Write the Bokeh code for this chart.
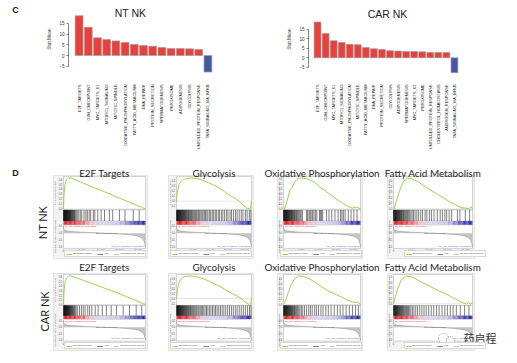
import math
import numpy as np
from bokeh.plotting import figure
from bokeh.models import Range1d, FactorRange, FixedTicker, Label, Legend, LegendItem
from bokeh.layouts import row, column
from bokeh.transform import linear_cmap
from bokeh.core.properties import value
from bokeh.embed import file_html
from bokeh.resources import INLINE

# ---------------- data: panel C ----------------
nt_terms = ["E2F_TARGETS", "G2M_CHECKPOINT", "MYC_TARGETS_V1", "MTORC1_SIGNALING",
            "MITOTIC_SPINDLE", "OXIDATIVE_PHOSPHORYLATION", "FATTY_ACID_METABOLISM",
            "DNA_REPAIR", "PROTEIN_SECRETION", "SPERMATOGENESIS", "PEROXISOME",
            "ADIPOGENESIS", "GLYCOLYSIS", "UNFOLDED_PROTEIN_RESPONSE", "TNFA_SIGNALING_VIA_NFKB"]
nt_stat = [18.5, 13.1, 8.2, 7.4, 6.8, 6.0, 5.1, 4.6, 4.3, 3.7, 3.2, 3.2, 3.1, 2.8, -7.7]

car_terms = ["E2F_TARGETS", "G2M_CHECKPOINT", "MYC_TARGETS_V1", "MTORC1_SIGNALING",
             "OXIDATIVE_PHOSPHORYLATION", "MITOTIC_SPINDLE", "FATTY_ACID_METABOLISM",
             "DNA_REPAIR", "PROTEIN_SECRETION", "GLYCOLYSIS", "ADIPOGENESIS",
             "SPERMATOGENESIS", "MYC_TARGETS_V2", "PEROXISOME", "UNFOLDED_PROTEIN_RESPONSE",
             "CHOLESTEROL_HOMEOSTASIS", "ANDROGEN_RESPONSE", "TNFA_SIGNALING_VIA_NFKB"]
car_stat = [18.6, 12.7, 8.9, 8.0, 7.0, 6.8, 5.4, 4.7, 4.3, 3.7, 3.5, 3.3, 3.3, 3.1, 2.8, 2.8, 2.8, -7.8]

stat_ticks = [-5, 0, 5, 10, 15]

# ---------------- data: panel D ----------------
gsea_titles = ["E2F Targets", "Glycolysis", "Oxidative Phosphorylation", "Fatty Acid Metabolism"]
row_names = ["NT NK", "CAR NK"]
N_GENES = 22000
rank_ticks = [0, 5000, 10000, 15000, 20000]
rank_tick_labels = ["0", "5,000", "10,000", "15,000", "20,000"]
es_ticks = [-0.1, 0.0, 0.1, 0.2, 0.3, 0.4, 0.5, 0.6]
metric_ticks = [-1.0, -0.5, 0.0, 0.5]

nt_e2f_rank = [0, 150, 400, 800, 1300, 2000, 3000, 5000, 8000, 11000, 14000, 17000, 19500, 21000, 22000]
nt_e2f_es = [0.0, 0.30, 0.50, 0.60, 0.63, 0.63, 0.60, 0.535, 0.44, 0.35, 0.25, 0.16, 0.08, 0.03, 0.0]
nt_gly_rank = [0, 200, 600, 1200, 2000, 3000, 4000, 6000, 8000, 10000, 12000, 14000, 16000, 18000, 19500, 20500, 21300, 21700, 22000]
nt_gly_es = [0.0, 0.15, 0.30, 0.38, 0.42, 0.44, 0.45, 0.44, 0.40, 0.34, 0.28, 0.19, 0.10, 0.02, -0.07, -0.13, -0.15, -0.14, 0.0]
nt_ox_rank = [0, 280, 940, 1870, 2530, 3280, 4210, 5150, 7020, 8890, 10770, 13570, 16380, 18250, 19660, 20600, 21530, 22000]
nt_ox_es = [0.0, 0.0, 0.14, 0.39, 0.44, 0.55, 0.61, 0.62, 0.60, 0.53, 0.42, 0.28, 0.14, 0.056, 0.014, 0.035, 0.02, 0.0]
nt_fam_rank = [0, 180, 640, 1090, 2000, 2910, 3820, 5180, 7000, 9270, 11550, 13820, 16090, 18820, 20180, 21090, 21550, 22000]
nt_fam_es = [0.0, 0.0, 0.11, 0.20, 0.38, 0.50, 0.55, 0.54, 0.48, 0.38, 0.29, 0.20, 0.11, 0.02, 0.012, 0.006, 0.037, 0.0]

car_e2f_rank = [0, 150, 400, 800, 1300, 1900, 3000, 5000, 8000, 11000, 14000, 17000, 19500, 21000, 22000]
car_e2f_es = [0.0, 0.28, 0.48, 0.58, 0.62, 0.63, 0.60, 0.54, 0.45, 0.36, 0.27, 0.17, 0.09, 0.03, 0.0]
car_gly_rank = [0, 300, 800, 1500, 2500, 4000, 6000, 8000, 10000, 12000, 14000, 16000, 18000, 19500, 20500, 21300, 21800, 22000]
car_gly_es = [0.0, 0.18, 0.33, 0.40, 0.44, 0.45, 0.43, 0.39, 0.33, 0.26, 0.19, 0.11, 0.04, -0.03, -0.09, -0.12, -0.11, 0.0]
car_ox_rank = [0, 655, 1400, 2150, 2810, 3560, 4210, 5620, 7490, 9830, 12640, 16380, 18440, 19660, 20600, 21340, 22000]
car_ox_es = [0.0, 0.08, 0.24, 0.38, 0.46, 0.53, 0.56, 0.55, 0.50, 0.40, 0.27, 0.15, 0.08, 0.05, 0.04, 0.045, 0.0]
car_fam_rank = [0, 460, 1110, 2040, 2690, 3430, 4830, 7150, 9470, 11790, 14110, 16430, 18290, 19680, 20330, 20890, 21350, 22000]
car_fam_es = [0.0, 0.12, 0.27, 0.43, 0.48, 0.52, 0.51, 0.43, 0.35, 0.27, 0.20, 0.12, 0.05, 0.012, -0.006, 0.025, -0.012, 0.018]

nt_e2f_hits = [20, 90, 160, 230, 300, 370, 440, 510, 580, 650, 720, 800, 880, 960, 1040, 1120, 1200, 1290,
               1380, 1470, 1560, 1660, 1760, 1870, 1980, 2100, 2230, 2360, 2500, 2650, 2800, 2960, 3150, 3400,
               3700, 4100, 4500, 4900, 5500, 6000, 6400, 6900, 7300, 8000, 8400, 9200, 10100, 11000, 12300,
               13200, 15000, 16500, 18700, 20300]
nt_gly_hits = [30, 110, 190, 280, 360, 450, 540, 620, 720, 810, 900, 1010, 1100, 1210, 1330, 1440, 1560, 1690,
               1800, 1940, 2070, 2210, 2350, 2510, 2650, 2820, 2990, 3150, 3340, 3520, 3730, 3910, 4130, 4370,
               4580, 4830, 5090, 5350, 5610, 5900, 6230, 6500, 6790, 7150, 7480, 7790, 8170, 8500, 8900, 9230,
               9700, 10050, 10500, 10900, 11350, 11700, 12250, 12600, 13150, 13600, 14100, 14650, 15100, 15700,
               16150, 16700, 17300, 17800, 18400, 19000, 19500, 20200, 20700, 21350, 21800]
nt_ox_hits = [20, 100, 180, 260, 340, 420, 500, 590, 680, 770, 860, 950, 1050, 1150, 1250, 1350, 1460, 1570,
              1680, 1800, 1920, 2050, 2180, 2320, 2460, 2610, 2770, 2940, 3120, 3300, 3500, 3720, 3950, 4200,
              4480, 4750, 5050, 5400, 6600, 6900, 7300, 7600, 7900, 8300, 8700, 9100, 9500, 10300, 10600,
              10900, 11200, 12300, 13000, 13800, 14700, 15600, 16300, 16700, 17100, 17600, 18500, 19300,
              20100, 21000]
nt_fam_hits = [20, 110, 200, 290, 380, 470, 560, 650, 750, 850, 950, 1060, 1170, 1280, 1400, 1520, 1650, 1780,
               1920, 2070, 2230, 2400, 2580, 2770, 2970, 3180, 3400, 3650, 3900, 4200, 4500, 4850, 5200, 5600,
               6000, 6500, 7000, 7600, 8100, 8800, 9300, 10000, 10600, 11300, 12200, 13000, 13600, 14300,
               14800, 15500, 16200, 17800, 18500, 20000, 21200]
car_e2f_hits = [30, 100, 170, 240, 310, 380, 450, 520, 590, 660, 740, 820, 900, 980, 1060, 1150, 1240, 1330,
                1430, 1530, 1640, 1750, 1870, 2000, 2130, 2270, 2420, 2580, 2750, 2930, 3150, 3400, 3800, 4300,
                4800, 5300, 5800, 6500, 7000, 7600, 8500, 9300, 10400, 11500, 12800, 14200, 16000, 17700,
                19500, 21000]
car_gly_hits = [50, 130, 220, 300, 390, 470, 560, 660, 750, 850, 950, 1050, 1160, 1270, 1380, 1500, 1620, 1750,
                1880, 2020, 2160, 2300, 2460, 2610, 2780, 2950, 3120, 3300, 3490, 3690, 3900, 4120, 4350, 4600,
                4850, 5100, 5380, 5680, 5950, 6300, 6600, 6950, 7300, 7650, 8000, 8400, 8800, 9200, 9650,
                10100, 10550, 11000, 11450, 11900, 12400, 12900, 13400, 13900, 14450, 15000, 15550, 16100,
                16650, 17250, 17800, 18400, 19000, 19600, 20200, 20800, 21400, 21850]
car_ox_hits = [40, 120, 200, 280, 360, 450, 540, 630, 720, 820, 920, 1020, 1130, 1240, 1350, 1470, 1590, 1720,
               1850, 1990, 2130, 2280, 2440, 2600, 2770, 2950, 3140, 3340, 3560, 3800, 4050, 4350, 4700, 5100,
               5500, 6000, 6600, 7200, 7700, 8200, 8900, 9400, 10000, 10700, 11300, 12100, 12800, 13600,
               14500, 15400, 16200, 17000, 17900, 18800, 19700, 20600, 21400]
car_fam_hits = [30, 120, 210, 300, 390, 480, 580, 680, 780, 880, 990, 1100, 1220, 1340, 1470, 1600, 1740, 1890,
                2040, 2200, 2370, 2550, 2740, 2940, 3160, 3390, 3630, 3900, 4180, 4500, 4850, 5250, 5700, 6200,
                6700, 7300, 7900, 8500, 9100, 9800, 10500, 11200, 12000, 12700, 13500, 14300, 15000, 15800,
                16600, 17500, 18600, 19800, 21000]

metric_rank = [0, 60, 200, 500, 1000, 1800, 3000, 5000, 7500, 10000, 11500, 13000, 15000, 17000, 18500,
               19700, 20500, 21100, 21500, 21800, 22000]
nt_metric = [0.52, 0.34, 0.26, 0.21, 0.17, 0.14, 0.11, 0.08, 0.05, 0.02, 0.0, -0.02, -0.05, -0.09, -0.13,
             -0.19, -0.26, -0.36, -0.50, -0.72, -1.0]
car_metric = [0.55, 0.36, 0.27, 0.22, 0.18, 0.15, 0.12, 0.085, 0.05, 0.02, 0.0, -0.02, -0.05, -0.09, -0.14,
              -0.20, -0.27, -0.38, -0.52, -0.75, -1.0]
nt_zero_cross = 11493
car_zero_cross = 11472

# ---------------- styles ----------------
RED = "#e8403a"
BLUE = "#4a55a6"
GREEN = "#8fcf3c"
HEAT = ["#e41f2a", "#e6323a", "#e94a55", "#ec6a78", "#f09aac", "#f0bfd4", "#e3cbe6", "#d8d3ef",
        "#d3cfee", "#cfcbec", "#cac6ea", "#b6b2e3", "#8e8ad4", "#6461c2", "#4240b0", "#2f2ea3"]
TINY = "Liberation Sans"


def base_fig(w, h, bl, br, bt, bb, **kw):
    p = figure(width=int(w), height=int(h), min_border_left=int(bl), min_border_right=int(br),
               min_border_top=int(bt), min_border_bottom=int(bb), toolbar_location=None,
               output_backend="svg", title=None, outline_line_color=None, **kw)
    return p


def label_fig(w, h, items):
    p = base_fig(w, h, 0, 0, 0, 0, x_range=Range1d(0, w), y_range=Range1d(0, h),
                 x_axis_type=None, y_axis_type=None)
    p.grid.visible = False
    for (x, y, txt, ang, size, style) in items:
        p.add_layout(Label(x=x, y=y, text=txt, angle=ang, text_font_size=size, text_font_style=style,
                           text_font="Lato" if style == "normal" else "Liberation Sans",
                           text_align="center", text_baseline="middle", text_color="#1a1a1a"))
    return p


def bar_chart(terms, stats, title, w, bl, fw, br, zero_px, ppu, top_px, bot_px, pad, title_px, title_py):
    n = len(terms)
    H = 163
    ymax = (zero_px - top_px) / ppu
    ymin = -(bot_px - zero_px) / ppu
    p = base_fig(w, H, bl, br, top_px, H - bot_px,
                 x_range=FactorRange(factors=terms, range_padding=pad / n, range_padding_units="percent"),
                 y_range=Range1d(ymin, ymax))
    colors = [RED if v > 0 else BLUE for v in stats]
    p.vbar(x=terms, top=stats, width=0.85, fill_color=colors, line_color="#9c9c9c", line_width=0.7)
    p.grid.visible = False
    ya = p.yaxis[0]
    ya.ticker = FixedTicker(ticks=stat_ticks)
    ya.bounds = (min(stat_ticks), max(stat_ticks))
    ya.minor_tick_line_color = None
    ya.major_tick_out = 2
    ya.major_tick_in = 0
    ya.axis_line_width = 0.6
    ya.major_tick_line_width = 0.6
    ya.axis_line_color = "#333333"
    ya.major_tick_line_color = "#333333"
    ya.major_label_text_font_size = "4.6px"
    ya.major_label_text_font = "Liberation Sans"
    ya.major_label_text_color = "#333333"
    ya.major_label_standoff = 2
    ya.axis_label = "Stat.Mean"
    ya.axis_label_text_font_size = "4.6px"
    ya.axis_label_text_font_style = "normal"
    ya.axis_label_text_font = "Liberation Sans"
    ya.axis_label_standoff = 4
    xa = p.xaxis[0]
    xa.axis_line_color = None
    xa.major_tick_line_color = None
    xa.major_label_orientation = math.pi / 2
    xa.major_label_standoff = 5
    xa.major_label_text_font_size = "3.9px"
    xa.major_label_text_font = "'Liberation Sans Narrow', 'Liberation Sans', sans-serif"
    xa.major_label_text_color = "#222222"
    x_syn = -pad / 2 + title_px * (n + pad) / fw
    y_title = (zero_px - title_py) / ppu
    p.add_layout(Label(x=x_syn, y=y_title, text=title, text_font="Liberation Sans", text_font_size="10.5px",
                       text_align="center", text_baseline="middle", text_color="#222222"))
    return p


def gsea(title, es_rank, es, hits, m_val, zero_cross, geom, fh, pb, ph, title_y, extra=None):
    fig_l, fig_r, pan_l, es_l, es_r, pan_r = geom
    w = fig_r - fig_l
    k = N_GENES / (es_r - es_l)
    x0 = -(es_l - fig_l) * k
    x1 = N_GENES + (fig_r - es_r) * k
    px0 = -(es_l - pan_l) * k
    px1 = N_GENES + (pan_r - es_r) * k
    p = base_fig(w, fh, 0, 0, 0, 0, x_range=Range1d(x0, x1), y_range=Range1d(0, fh),
                 x_axis_type=None, y_axis_type=None)
    p.grid.visible = False

    def Y(f):
        return pb + f * ph

    es_b, es_t = Y(0.585), Y(0.988)
    hit_b, hit_t = Y(0.452), Y(0.585)
    heat_b, heat_t = Y(0.408), Y(0.452)
    met_b, met_t = Y(0.122), Y(0.405)
    # panel background and boxes
    p.quad(left=[px0], right=[px1], bottom=[pb], top=[pb + ph], fill_color="#f3f3f3", line_color="#d4d4d4",
           line_width=0.6)
    p.quad(left=[0, 0, 0], right=[N_GENES] * 3, bottom=[es_b, hit_b, met_b], top=[es_t, hit_t, met_t],
           fill_color="white", line_color="#a8a8a8", line_width=0.5)
    # ranges
    elo, ehi = min(es) - 0.02, max(es) + 0.03
    s = (ehi - elo) / (es_t - es_b)
    p.extra_y_ranges["es"] = Range1d(elo - es_b * s, ehi + (fh - es_t) * s)
    mlo, mhi = min(m_val) - 0.08, max(m_val) + 0.08
    s2 = (mhi - mlo) / (met_t - met_b)
    p.extra_y_ranges["met"] = Range1d(mlo - met_b * s2, mhi + (fh - met_t) * s2)
    # heat bar
    edges = np.linspace(0, N_GENES, 65)
    p.quad(left=edges[:-1], right=edges[1:], bottom=heat_b, top=heat_t,
           fill_color=linear_cmap("left", HEAT, 0, N_GENES), line_color=None)
    # hits
    hr = p.segment(x0=hits, x1=hits, y0=hit_b, y1=hit_t, line_color="#000000", line_width=0.6,
                   line_alpha=0.85)
    # ES
    p.segment(x0=[0], x1=[N_GENES], y0=[0], y1=[0], y_range_name="es", line_color="#bdbdbd", line_width=0.4)
    er = p.line(es_rank, es, y_range_name="es", line_color=GREEN, line_width=0.9)
    # ranked metric
    p.varea(x=metric_rank, y1=0, y2=m_val, y_range_name="met", fill_color="#c4c4c4")
    mr = p.line(metric_rank, m_val, y_range_name="met", line_color="#8c8c8c", line_width=0.5)
    # tick labels
    tv = [t for t in es_ticks if elo <= t <= ehi]
    p.text(x=[-1.2 * k] * len(tv), y=tv, text=[f"{t:.1f}" for t in tv], y_range_name="es",
           text_font=value(TINY), text_font_size="2.6px", text_align="right", text_baseline="middle",
           text_color="#555555")
    mv = [t for t in metric_ticks if mlo <= t <= mhi]
    p.text(x=[-1.2 * k] * len(mv), y=mv, text=[f"{t:.1f}" for t in mv], y_range_name="met",
           text_font=value(TINY), text_font_size="2.6px", text_align="right", text_baseline="middle",
           text_color="#555555")
    p.text(x=rank_ticks, y=[Y(0.092)] * len(rank_ticks), text=rank_tick_labels, text_font=value(TINY),
           text_font_size="2.6px", text_align="center", text_baseline="middle", text_color="#555555")
    p.text(x=[N_GENES / 2], y=[Y(0.062)], text=["Rank in Ordered Dataset"], text_font=value(TINY),
           text_font_size="2.6px", text_align="center", text_baseline="middle", text_color="#555555")
    p.text(x=[px0 + 1.8 * k] * 2, y=[(es_b + es_t) / 2, (met_b + met_t) / 2],
           text=["Enrichment score (ES)", "Ranked list metric (PreRanked)"], angle=math.pi / 2,
           text_font=value(TINY), text_font_size="2.4px", text_align="center", text_baseline="middle",
           text_color="#555555")
    p.text(x=[0.012 * N_GENES], y=[met_t - 0.02 * ph], text=["'na_pos' (positively correlated)"],
           text_font=value(TINY), text_font_size="2.4px", text_align="left", text_baseline="middle",
           text_color="#e0302a")
    p.text(x=[0.985 * N_GENES], y=[met_b + 0.03 * ph], text=["'na_neg' (negatively correlated)"],
           text_font=value(TINY), text_font_size="2.4px", text_align="right", text_baseline="middle",
           text_color="#5050c8")
    p.text(x=[zero_cross], y=[met_t - 0.1 * ph], text=[f"Zero cross at {zero_cross}"],
           text_font=value(TINY), text_font_size="2.4px", text_align="center", text_baseline="middle",
           text_color="#444444")
    leg = Legend(items=[LegendItem(label="Enrichment profile", renderers=[er]),
                        LegendItem(label="Hits", renderers=[hr]),
                        LegendItem(label="Ranking metric scores", renderers=[mr])],
                 location="bottom_center", orientation="horizontal", label_text_font_size="2.4px",
                 label_text_font=TINY, glyph_width=6, glyph_height=2, label_height=2, label_width=1,
                 label_standoff=1, spacing=5, padding=1, margin=int(pb + 1), border_line_color="#b0b0b0",
                 border_line_width=0.4, background_fill_color="white", background_fill_alpha=1.0)
    p.add_layout(leg)
    p.add_layout(Label(x=N_GENES / 2, y=title_y, text=title, text_font="Lato", text_font_size="9.9px",
                       text_align="center", text_baseline="middle", text_color="#1e1e1e"))
    if extra is not None:
        ex_px, ey, etxt = extra
        p.scatter(x=[x0 + (ex_px - 20) * k, x0 + (ex_px - 13) * k], y=[ey - 1, ey - 3], size=[10, 8],
                  marker="circle", fill_color="white", fill_alpha=0.7, line_color="#888888", line_width=0.8,
                  line_dash="1 1")
        p.add_layout(Label(x=x0 + ex_px * k, y=ey, text=etxt, text_font="Noto Sans CJK SC",
                           text_font_size="11px", text_align="left", text_baseline="middle",
                           text_color="#333333"))
    return p


# ---------------- panel C ----------------
labC = label_fig(40, 163, [(15, 150, "C", 0, "9px", "bold")])
figNT = bar_chart(nt_terms, nt_stat, "NT NK", 218, 28, 150, 40, 55.0, 2.15, 4, 73, 1.3, 62, 12)
figCAR = bar_chart(car_terms, car_stat, "CAR NK", 251, 50, 155, 46, 57.3, 1.92, 4, 73, 1.25, 79, 13)

# ---------------- panel D ----------------
# fig_left, fig_right, panel_left, es_left, es_right, panel_right (page pixels)
cols = [(50, 160, 53, 63, 145, 147),
        (160, 262, 168, 176, 251, 253),
        (262, 380, 277, 283, 360, 362),
        (380, 509, 387, 393, 472, 474)]
nt_sets = [(nt_e2f_rank, nt_e2f_es, nt_e2f_hits), (nt_gly_rank, nt_gly_es, nt_gly_hits),
           (nt_ox_rank, nt_ox_es, nt_ox_hits), (nt_fam_rank, nt_fam_es, nt_fam_hits)]
car_sets = [(car_e2f_rank, car_e2f_es, car_e2f_hits), (car_gly_rank, car_gly_es, car_gly_hits),
            (car_ox_rank, car_ox_es, car_ox_hits), (car_fam_rank, car_fam_es, car_fam_hits)]

row1 = []
row2 = []
for i, (geom, s1, s2) in enumerate(zip(cols, nt_sets, car_sets)):
    row1.append(gsea(gsea_titles[i], s1[0], s1[1], s1[2], nt_metric, nt_zero_cross, geom, 97, 2, 83, 88))
    row2.append(gsea(gsea_titles[i], s2[0], s2[1], s2[2], car_metric, car_zero_cross, geom, 95, 5, 77, 89,
                     extra=(463 - 380, 18, "药启程") if i == 3 else None))

labD = label_fig(50, 192, [(15, 183, "D", 0, "9px", "bold"),
                           (42, 133, row_names[0], math.pi / 2, "11px", "normal"),
                           (44, 44, row_names[1], math.pi / 2, "11px", "normal")])

layout = column(row(labC, figNT, figCAR), row(labD, column(row(*row1), row(*row2))))
open("out.html", "w").write(file_html(layout, INLINE))
